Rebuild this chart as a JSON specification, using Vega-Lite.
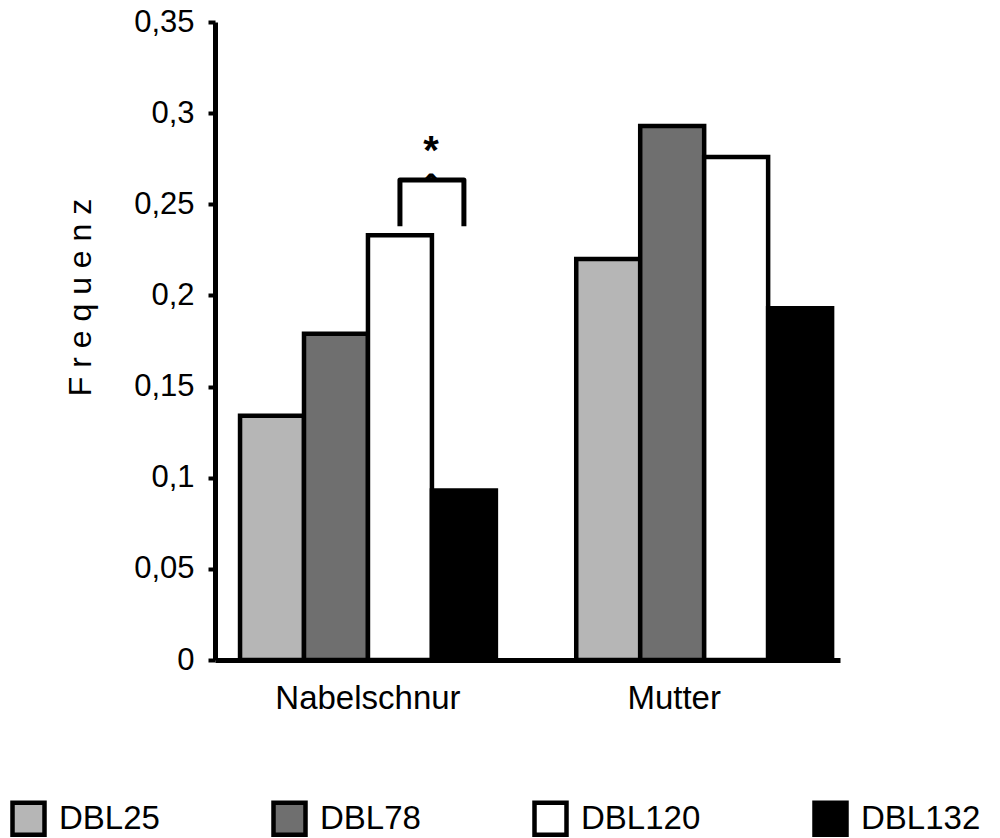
{
  "$schema": "https://vega.github.io/schema/vega-lite/v6.json",
  "width": 625,
  "height": 638,
  "autosize": {"type": "none"},
  "padding": {"left": 215, "top": 22, "right": 160, "bottom": 178},
  "background": "white",
  "config": {
    "font": "Liberation Sans",
    "view": {"stroke": null}
  },
  "datasets": {
    "bars": [
      {"Gruppe": "Nabelschnur", "Allel": "DBL25", "Frequenz": 0.134},
      {"Gruppe": "Nabelschnur", "Allel": "DBL78", "Frequenz": 0.179},
      {"Gruppe": "Nabelschnur", "Allel": "DBL120", "Frequenz": 0.233},
      {"Gruppe": "Nabelschnur", "Allel": "DBL132", "Frequenz": 0.093},
      {"Gruppe": "Mutter", "Allel": "DBL25", "Frequenz": 0.220},
      {"Gruppe": "Mutter", "Allel": "DBL78", "Frequenz": 0.293},
      {"Gruppe": "Mutter", "Allel": "DBL120", "Frequenz": 0.276},
      {"Gruppe": "Mutter", "Allel": "DBL132", "Frequenz": 0.193}
    ],
    "klammer": [
      {"Gruppe": "Nabelschnur", "Allel": "DBL120", "Frequenz": 0.238, "Punkt": 1},
      {"Gruppe": "Nabelschnur", "Allel": "DBL120", "Frequenz": 0.2633, "Punkt": 2},
      {"Gruppe": "Nabelschnur", "Allel": "DBL132", "Frequenz": 0.2633, "Punkt": 3},
      {"Gruppe": "Nabelschnur", "Allel": "DBL132", "Frequenz": 0.238, "Punkt": 4}
    ],
    "stern": [
      {"Gruppe": "Nabelschnur", "Allel": "DBL120", "Frequenz": 0.272, "Text": "*"}
    ],
    "spitze": [
      {"Gruppe": "Nabelschnur", "Allel": "DBL120", "Frequenz": 0.2547, "Text": "^"}
    ]
  },
  "layer": [
    {
      "data": {"name": "bars"},
      "mark": {"type": "bar", "stroke": "black", "strokeWidth": 4.5, "opacity": 1},
      "encoding": {
        "x": {
          "field": "Gruppe", "type": "nominal", "sort": ["Nabelschnur", "Mutter"],
          "scale": {"paddingInner": 0.239, "paddingOuter": 0.049, "align": 0.76},
          "axis": {
            "title": null, "labelAngle": 0, "ticks": false,
            "domainWidth": 5, "domainColor": "black",
            "labelFontSize": 33, "labelColor": "black", "labelPadding": 22, "labelLimit": 400,
            "labelOffset": {"condition": {"test": "datum.value === 'Mutter'", "value": -30}, "value": 0}
          }
        },
        "xOffset": {
          "field": "Allel", "type": "nominal", "sort": ["DBL25", "DBL78", "DBL120", "DBL132"],
          "scale": {"paddingInner": 0, "paddingOuter": 0}
        },
        "y": {
          "field": "Frequenz", "type": "quantitative",
          "scale": {"domain": [0, 0.35], "nice": false, "zero": true},
          "axis": {
            "title": "F r e q u e n z",
            "values": [0, 0.05, 0.1, 0.15, 0.2, 0.25, 0.3, 0.35],
            "labelExpr": "replace(format(datum.value, '.2~f'), '.', ',')",
            "grid": false,
            "domainWidth": 5, "domainColor": "black",
            "tickWidth": 4, "tickColor": "black", "tickSize": 7,
            "labelFontSize": 31, "labelColor": "black", "labelPadding": 14,
            "titleFontSize": 32, "titleFontWeight": "normal", "titleColor": "black",
            "titleX": -125, "titleY": 275, "titleBaseline": "alphabetic", "titleAlign": "center", "titleAngle": 270
          }
        },
        "color": {
          "field": "Allel", "type": "nominal",
          "sort": ["DBL25", "DBL78", "DBL120", "DBL132"],
          "scale": {"domain": ["DBL25", "DBL78", "DBL120", "DBL132"], "range": ["#b6b6b6", "#6f6f6f", "#ffffff", "#000000"]},
          "legend": {
            "title": null, "orient": "none", "legendX": -205, "legendY": 778,
            "direction": "horizontal", "columns": 4, "columnPadding": 104,
            "symbolType": "square", "symbolSize": 1024,
            "symbolStrokeColor": "black", "symbolStrokeWidth": 4.5, "symbolOpacity": 1,
            "labelFontSize": 33, "labelOffset": 12, "labelColor": "black", "labelLimit": 300
          }
        }
      }
    },
    {
      "data": {"name": "klammer"},
      "mark": {"type": "line", "color": "black", "strokeWidth": 5, "strokeJoin": "round"},
      "encoding": {
        "x": {"field": "Gruppe", "type": "nominal", "sort": ["Nabelschnur", "Mutter"]},
        "xOffset": {"field": "Allel", "type": "nominal", "sort": ["DBL25", "DBL78", "DBL120", "DBL132"]},
        "y": {"field": "Frequenz", "type": "quantitative"},
        "order": {"field": "Punkt", "type": "quantitative"}
      }
    },
    {
      "data": {"name": "stern"},
      "mark": {"type": "text", "fontSize": 40, "fontWeight": "bold", "dx": 31, "baseline": "alphabetic", "align": "center", "color": "black"},
      "encoding": {
        "x": {"field": "Gruppe", "type": "nominal", "sort": ["Nabelschnur", "Mutter"]},
        "xOffset": {"field": "Allel", "type": "nominal", "sort": ["DBL25", "DBL78", "DBL120", "DBL132"]},
        "y": {"field": "Frequenz", "type": "quantitative"},
        "text": {"field": "Text"}
      }
    },
    {
      "data": {"name": "spitze"},
      "mark": {"type": "text", "font": "DejaVu Sans", "fontSize": 30, "fontWeight": "bold", "dx": 31, "baseline": "alphabetic", "align": "center", "color": "black"},
      "encoding": {
        "x": {"field": "Gruppe", "type": "nominal", "sort": ["Nabelschnur", "Mutter"]},
        "xOffset": {"field": "Allel", "type": "nominal", "sort": ["DBL25", "DBL78", "DBL120", "DBL132"]},
        "y": {"field": "Frequenz", "type": "quantitative"},
        "text": {"field": "Text"}
      }
    }
  ]
}
